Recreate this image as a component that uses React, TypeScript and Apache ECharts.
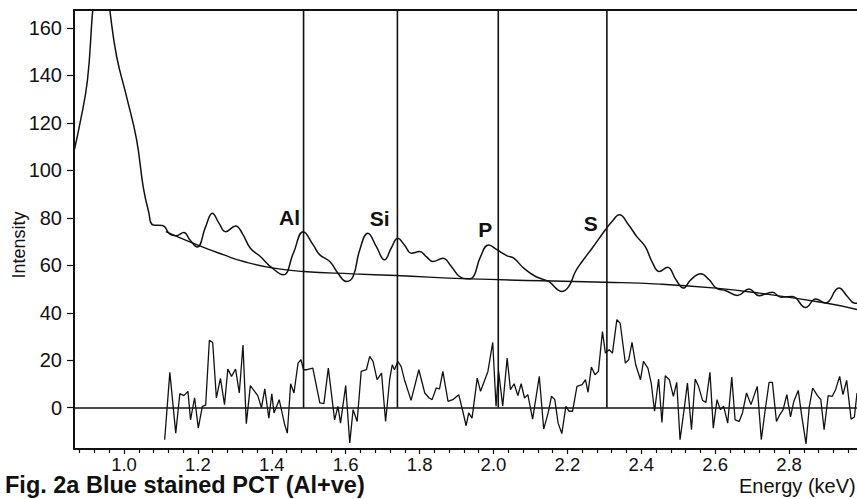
import React, { useEffect, useRef } from 'react';
import * as echarts from 'echarts';

// ---------- data ----------
const spectrumEnergy = [
  0.8646, 0.881, 0.901, 0.915, 0.926, 0.938, 0.95, 0.962, 0.98, 1.007, 1.034, 1.052, 1.066, 1.079,
  1.104, 1.125, 1.14, 1.162, 1.178, 1.198, 1.221, 1.239, 1.257, 1.275, 1.302, 1.32, 1.342, 1.369,
  1.4, 1.431, 1.458, 1.485, 1.512, 1.53, 1.557, 1.579, 1.602, 1.62, 1.638, 1.66, 1.683, 1.705,
  1.723, 1.741, 1.759, 1.778, 1.8, 1.818, 1.836, 1.863, 1.886, 1.908, 1.93, 1.942, 1.965, 1.987,
  2.01, 2.037, 2.055, 2.082, 2.114, 2.149, 2.186, 2.204, 2.222, 2.24, 2.267, 2.303, 2.321, 2.341,
  2.366, 2.388, 2.411, 2.429, 2.449, 2.471, 2.494, 2.514, 2.534, 2.561, 2.584, 2.603, 2.629, 2.66,
  2.692, 2.719, 2.755, 2.778, 2.809, 2.845, 2.872, 2.899, 2.935, 2.958, 2.976, 2.984,
];
const spectrumIntensity = [
  108, 120, 138, 167, 184, 191, 184, 167, 148, 131, 113, 93, 83, 77,
  76.8, 73.0, 72.5, 73.8, 70.8, 67.7, 76.3, 82, 77.8, 74.2, 76.6, 73.5, 67.2, 63.7,
  59, 56, 65, 74.2, 68.6, 64.4, 61.6, 56.7, 53.2, 55.3, 66.5, 73.5, 67.9, 62.3,
  67.2, 71.4, 68.6, 65.1, 65.8, 63.7, 61.6, 63, 59.5, 55.3, 54.3, 54.6, 63.7, 68.6,
  66.5, 64, 63, 58.8, 55.3, 53.2, 49, 51.1, 57.4, 61.6, 67.2, 75, 78.5, 81.3,
  77, 72.1, 67.9, 61.6, 57.4, 59.2, 53.9, 50.4, 53.9, 56.4, 53.9, 50.4, 49.3, 47.3,
  50, 47.2, 48.7, 46.6, 46.9, 42.2, 45.8, 44.1, 50.4, 46.9, 44.1, 44,
];

const backgroundEnergy = [1.113, 1.198, 1.27, 1.324, 1.405, 1.485, 1.62, 1.737, 1.935, 2.303, 2.449, 2.602, 2.719, 2.899, 2.984];
const backgroundIntensity = [74.2, 68.6, 64.4, 61.6, 58.8, 57.4, 56.4, 55.7, 54.3, 52.9, 52.1, 50.4, 48.3, 44.1, 41.4];

const residualEnergy = [
  1.11, 1.124, 1.14, 1.151, 1.162, 1.173, 1.18, 1.191, 1.201, 1.212, 1.221, 1.231, 1.24, 1.25,
  1.261, 1.272, 1.281, 1.291, 1.302, 1.312, 1.322, 1.331, 1.342, 1.362, 1.372, 1.381, 1.392, 1.4,
  1.406, 1.42, 1.435, 1.442, 1.451, 1.46, 1.471, 1.479, 1.486, 1.495, 1.511, 1.53, 1.541, 1.553,
  1.57, 1.579, 1.586, 1.6, 1.611, 1.62, 1.631, 1.642, 1.656, 1.665, 1.674, 1.685, 1.697, 1.708,
  1.719, 1.726, 1.732, 1.741, 1.75, 1.759, 1.777, 1.798, 1.814, 1.826, 1.834, 1.845, 1.854, 1.863,
  1.877, 1.89, 1.906, 1.917, 1.926, 1.933, 1.942, 1.956, 1.965, 1.985, 1.998, 2.007, 2.014, 2.025,
  2.037, 2.046, 2.056, 2.066, 2.075, 2.084, 2.093, 2.106, 2.124, 2.136, 2.148, 2.157, 2.166, 2.175,
  2.185, 2.196, 2.205, 2.214, 2.226, 2.24, 2.249, 2.256, 2.265, 2.275, 2.284, 2.295, 2.303, 2.313,
  2.322, 2.334, 2.343, 2.357, 2.366, 2.375, 2.385, 2.398, 2.406, 2.418, 2.427, 2.436, 2.447, 2.456,
  2.465, 2.476, 2.487, 2.496, 2.505, 2.516, 2.525, 2.536, 2.546, 2.555, 2.566, 2.575, 2.586, 2.595,
  2.605, 2.614, 2.623, 2.634, 2.645, 2.654, 2.665, 2.674, 2.685, 2.697, 2.714, 2.725, 2.735, 2.746,
  2.755, 2.766, 2.775, 2.784, 2.794, 2.804, 2.813, 2.825, 2.834, 2.846, 2.855, 2.864, 2.877, 2.886,
  2.895, 2.906, 2.917, 2.926, 2.937, 2.946, 2.956, 2.968, 2.977, 2.984,
];
const residualIntensity = [
  -13.5, 14.9, -10.7, 5.9, 5.1, 6.9, -5.1, 4.2, -8.6, 0.6, 1.1, 28.4, 27.5, 4.1,
  12.4, 1.3, 16.3, 13.2, 16.3, 6.2, 26.4, -6.7, 9.3, 5.1, 0, 7.9, -4.4, 5.8,
  -2.2, 3.4, -7.2, -10.7, 10.1, 6.2, 18.8, 20.2, 16, 16, 16.7, 2, 1.7, 16.7,
  -5.1, 0.6, -6.5, 9.3, -14.9, -0.8, -5.8, 15.3, 16, 21.6, 19.5, 11.8, 14.6, -5.8,
  11.8, 18.1, 16, 19.5, 17.4, 11.8, 3.1, 16, 6.2, 4.1, 3.4, 8.3, 7.9, 15.3,
  2.7, 3.4, 5.5, -1.5, -7.6, -2.2, -4.4, 12.5, 6.9, 15.3, 27.5, 0.6, 15.3, 0.6,
  20.9, 7.6, 10.1, 5.1, 10.1, 4.1, 5.5, -4.8, 13.2, -9, -2.2, 4.8, 3.4, -6.5,
  -10.9, 0.6, -1.5, -1.5, 9, 9.7, 11.8, 6.5, 17.1, 13.9, 15.3, 32.1, 23, 24.4,
  23, 37.1, 35.6, 18.8, 20.2, 27.5, 18.1, 11.8, 19.5, 16.7, 10.4, -1.5, 12.1, -6.2,
  13.5, 11.8, 4.8, 10.7, -13.5, -0.8, 10.4, -9.3, 12.1, 9, 3.1, 2.2, 14.9, -8.6,
  3.4, -0.8, 0.6, -6.5, 12.9, -5.1, -5.8, -2.2, 6.2, 1.3, 9, -13.5, -1.5, 10.7,
  10.7, -5.8, -3, -0.8, 5.5, -3.9, 2.7, 7.3, -3, -15.2, 0.6, 8.3, 5.1, 3.4,
  -9.3, 5.1, 4.8, 7.6, 13.2, 5.5, 11.5, -4.8, -3.9, 6.2,
];

const elementNames = ['Al', 'Si', 'P', 'S'];
const elementEnergies = [1.486, 1.74, 2.013, 2.307];
const elementLabelEnergy = [1.448, 1.692, 1.978, 2.263];
const elementLabelIntensity = [80.2, 79.9, 75, 77.5];

const xTickValues = [1.0, 1.2, 1.4, 1.6, 1.8, 2.0, 2.2, 2.4, 2.6, 2.8];
const yTickValues = [0, 20, 40, 60, 80, 100, 120, 140, 160];

const titleText = 'Fig. 2a Blue stained PCT (Al+ve)';
const xAxisTitle = 'Energy (keV)';
const yAxisTitle = 'Intensity';

const X_MIN = 0.8646;
const X_MAX = 2.984;
const Y_MIN = -17.4;
const Y_MAX = 167.6;

const FONT = '"Liberation Sans", Arial, Helvetica, sans-serif';
const INK = '#111111';

const zip = (xs: number[], ys: number[]) => xs.map((x, i) => [x, ys[i]]);

export default function App() {
  const ref = useRef<HTMLDivElement>(null);

  useEffect(() => {
    if (!ref.current) return;
    const chart = echarts.init(ref.current, undefined, { renderer: 'svg' });

    const isOnGrid = (v: number, step: number) => Math.abs(v / step - Math.round(v / step)) < 1e-6;

    const elementSeries = elementEnergies.map((e, i) => ({
      type: 'line',
      name: elementNames[i] + ' line',
      data: [[e, 0], [e, Y_MAX]],
      symbol: 'none',
      silent: true,
      lineStyle: { color: INK, width: 1.6 },
      z: 3,
    }));

    const baseGraphic: any[] = [
      {
        type: 'text',
        x: 5,
        y: 485,
        style: {
          text: titleText,
          font: `bold 23.5px ${FONT}`,
          fill: INK,
          textAlign: 'left',
          textVerticalAlign: 'middle',
        },
      },
      {
        type: 'text',
        x: 739,
        y: 485.5,
        style: {
          text: xAxisTitle,
          font: `20px ${FONT}`,
          fill: INK,
          textAlign: 'left',
          textVerticalAlign: 'middle',
        },
      },
      {
        type: 'text',
        x: 19,
        y: 245,
        rotation: Math.PI / 2,
        style: {
          text: yAxisTitle,
          font: `18px ${FONT}`,
          fill: INK,
          textAlign: 'center',
          textVerticalAlign: 'middle',
        },
      },
    ];

    const option: any = {
      animation: false,
      backgroundColor: '#ffffff',
      grid: { left: 74, right: 0, top: 10, bottom: 50, containLabel: false },
      xAxis: [
        {
          type: 'value',
          min: X_MIN,
          max: X_MAX,
          splitNumber: 10,
          axisLine: { show: true, onZero: false, lineStyle: { color: INK, width: 2 } },
          axisTick: { show: true, length: 5, customValues: xTickValues, lineStyle: { color: INK, width: 1.2 } },
          minorTick: { show: true, splitNumber: 5, length: 4, lineStyle: { color: INK, width: 1.2 } },
          splitLine: { show: false },
          minorSplitLine: { show: false },
          axisLabel: {
            customValues: xTickValues,
            fontSize: 18.5,
            lineHeight: 15,
            fontFamily: FONT,
            color: INK,
            margin: 8,
            formatter: (v: number) => (isOnGrid(v, 0.2) && v > X_MIN && v < X_MAX ? v.toFixed(1) : ''),
          },
        },
        {
          type: 'value',
          position: 'top',
          min: X_MIN,
          max: X_MAX,
          axisLine: { show: true, onZero: false, lineStyle: { color: INK, width: 2 } },
          axisTick: { show: false },
          axisLabel: { show: false },
          splitLine: { show: false },
        },
      ],
      yAxis: {
        type: 'value',
        min: Y_MIN,
        max: Y_MAX,
        splitNumber: 9,
        axisLine: { show: true, onZero: false, lineStyle: { color: INK, width: 2 } },
        axisTick: { show: true, length: 7, customValues: yTickValues, lineStyle: { color: INK, width: 1.2 } },
        splitLine: { show: false },
        axisLabel: {
          customValues: yTickValues,
          fontSize: 20,
          fontFamily: FONT,
          color: INK,
          margin: 12,
          formatter: (v: number) => (isOnGrid(v, 20) && v > Y_MIN && v < Y_MAX ? String(Math.round(v)) : ''),
        },
      },
      series: [
        {
          type: 'line',
          name: 'spectrum',
          data: zip(spectrumEnergy, spectrumIntensity),
          smooth: 0.45,
          symbol: 'none',
          clip: true,
          silent: true,
          lineStyle: { color: INK, width: 1.5 },
          z: 4,
        },
        {
          type: 'line',
          name: 'background',
          data: zip(backgroundEnergy, backgroundIntensity),
          smooth: 0.5,
          symbol: 'none',
          silent: true,
          lineStyle: { color: INK, width: 1.4 },
          z: 4,
        },
        {
          type: 'line',
          name: 'residual',
          data: zip(residualEnergy, residualIntensity),
          symbol: 'none',
          silent: true,
          lineStyle: { color: INK, width: 1.3 },
          z: 4,
          markLine: {
            silent: true,
            symbol: 'none',
            label: { show: false },
            lineStyle: { type: 'solid', color: INK, width: 1.5 },
            data: [{ yAxis: 0 }],
          },
        },
        ...elementSeries,
      ],
      graphic: baseGraphic,
    };

    chart.setOption(option);

    // element labels, placed through the chart's own scales
    const labelGraphic = elementNames.map((name, i) => {
      const pt = chart.convertToPixel({ gridIndex: 0 }, [elementLabelEnergy[i], elementLabelIntensity[i]]) as number[];
      return {
        type: 'text',
        x: pt[0],
        y: pt[1],
        z: 10,
        style: {
          text: name,
          font: `bold 21px ${FONT}`,
          fill: INK,
          textAlign: 'center',
          textVerticalAlign: 'middle',
        },
      };
    });
    chart.setOption({ graphic: [...baseGraphic, ...labelGraphic] });

    return () => {
      chart.dispose();
    };
  }, []);

  return (
    <div
      ref={ref}
      style={{ position: 'absolute', left: 0, top: 0, width: 857, height: 499, background: '#fff' }}
    />
  );
}
